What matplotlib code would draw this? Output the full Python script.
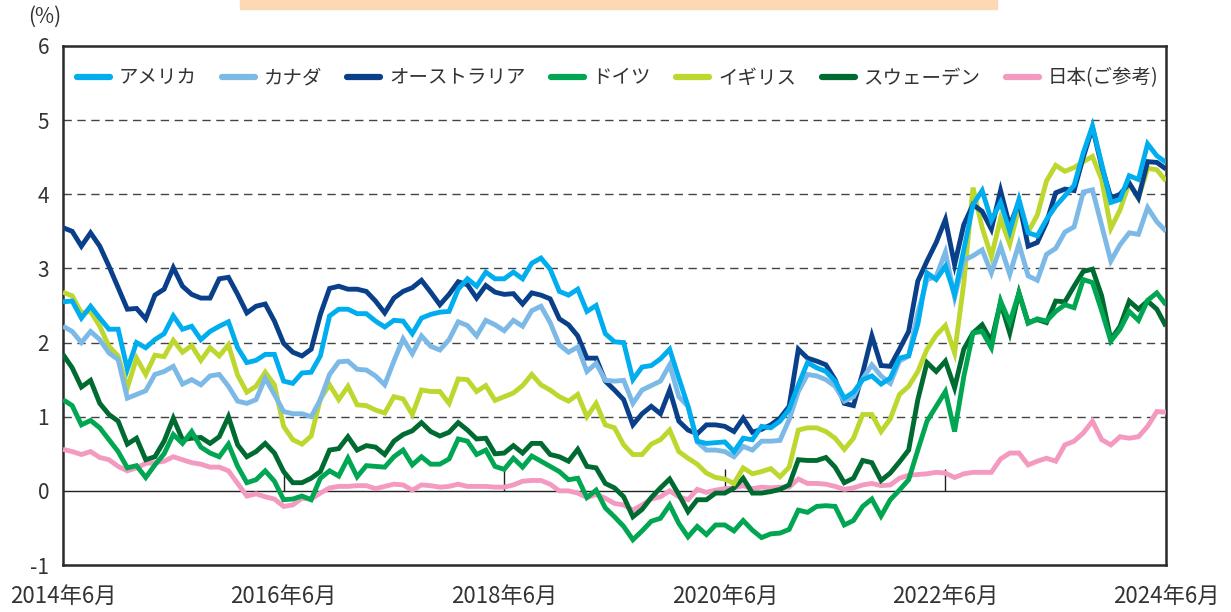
import numpy as np
import matplotlib.pyplot as plt
from matplotlib.patches import Rectangle

plt.rcParams['font.family'] = ['Noto Sans CJK JP', 'DejaVu Sans']

# 10-year government bond yields, month-end, 2014/6 - 2024/6 (%)
usa = [2.55, 2.56, 2.33, 2.49, 2.33, 2.18, 2.18, 1.64, 2.00, 1.93,
       2.04, 2.12, 2.36, 2.18, 2.22, 2.04, 2.15, 2.22, 2.28, 1.93,
       1.73, 1.76, 1.84, 1.84, 1.48, 1.45, 1.59, 1.60, 1.82, 2.36,
       2.45, 2.45, 2.39, 2.39, 2.29, 2.21, 2.30, 2.29, 2.12, 2.33,
       2.38, 2.41, 2.42, 2.72, 2.86, 2.76, 2.95, 2.86, 2.86, 2.95,
       2.86, 3.07, 3.14, 2.99, 2.69, 2.64, 2.72, 2.42, 2.50, 2.12,
       2.01, 2.00, 1.50, 1.67, 1.69, 1.78, 1.91, 1.52, 1.14, 0.67,
       0.64, 0.65, 0.66, 0.53, 0.71, 0.69, 0.87, 0.85, 0.94, 1.10,
       1.43, 1.73, 1.66, 1.61, 1.48, 1.25, 1.33, 1.50, 1.55, 1.44,
       1.52, 1.79, 1.82, 2.25, 2.94, 2.85, 3.03, 2.65, 3.25, 3.86,
       4.05, 3.65, 3.89, 3.50, 3.93, 3.48, 3.44, 3.66, 3.84, 3.98,
       4.12, 4.56, 4.92, 4.41, 3.89, 3.93, 4.25, 4.20, 4.68, 4.52,
       4.43]
canada = [2.22, 2.15, 2.00, 2.15, 2.04, 1.86, 1.77, 1.25, 1.30, 1.35,
          1.57, 1.61, 1.68, 1.44, 1.50, 1.43, 1.55, 1.57, 1.41, 1.21,
          1.18, 1.23, 1.52, 1.30, 1.07, 1.04, 1.04, 1.00, 1.23, 1.57,
          1.74, 1.75, 1.64, 1.63, 1.55, 1.43, 1.75, 2.05, 1.85, 2.09,
          1.95, 1.90, 2.04, 2.28, 2.23, 2.09, 2.30, 2.24, 2.16, 2.30,
          2.22, 2.43, 2.49, 2.27, 1.97, 1.87, 1.94, 1.61, 1.72, 1.49,
          1.48, 1.49, 1.18, 1.36, 1.42, 1.48, 1.70, 1.27, 1.14, 0.66,
          0.55, 0.55, 0.53, 0.46, 0.60, 0.55, 0.67, 0.67, 0.68, 0.96,
          1.34, 1.57, 1.55, 1.50, 1.41, 1.21, 1.27, 1.51, 1.70, 1.55,
          1.45, 1.75, 1.82, 2.40, 2.85, 2.89, 3.22, 2.61, 3.11, 3.17,
          3.25, 2.94, 3.30, 2.92, 3.33, 2.90, 2.84, 3.19, 3.27, 3.49,
          3.56, 4.03, 4.06, 3.58, 3.10, 3.32, 3.48, 3.46, 3.82, 3.63,
          3.50]
australia = [3.55, 3.50, 3.30, 3.48, 3.30, 3.03, 2.74, 2.45, 2.46, 2.32,
             2.64, 2.72, 3.01, 2.76, 2.65, 2.60, 2.60, 2.86, 2.88, 2.65,
             2.40, 2.49, 2.52, 2.29, 1.99, 1.87, 1.82, 1.91, 2.38, 2.73,
             2.76, 2.72, 2.72, 2.69, 2.56, 2.40, 2.60, 2.69, 2.74, 2.84,
             2.68, 2.51, 2.65, 2.82, 2.78, 2.60, 2.77, 2.68, 2.65, 2.66,
             2.52, 2.67, 2.64, 2.59, 2.32, 2.24, 2.09, 1.79, 1.79, 1.48,
             1.36, 1.23, 0.89, 1.04, 1.14, 1.04, 1.36, 0.94, 0.82, 0.77,
             0.89, 0.89, 0.87, 0.80, 0.98, 0.79, 0.83, 0.89, 0.98, 1.14,
             1.91, 1.79, 1.75, 1.70, 1.50, 1.18, 1.15, 1.59, 2.09, 1.69,
             1.68, 1.91, 2.15, 2.83, 3.10, 3.35, 3.66, 3.05, 3.59, 3.86,
             3.77, 3.53, 4.05, 3.57, 3.90, 3.30, 3.35, 3.62, 4.02, 4.07,
             4.05, 4.50, 4.90, 4.38, 3.95, 4.00, 4.15, 3.95, 4.44, 4.43,
             4.34]
germany = [1.23, 1.15, 0.89, 0.95, 0.85, 0.69, 0.53, 0.31, 0.34, 0.18,
           0.35, 0.50, 0.76, 0.64, 0.80, 0.59, 0.51, 0.46, 0.63, 0.33,
           0.11, 0.15, 0.27, 0.13, -0.12, -0.11, -0.07, -0.12, 0.17, 0.27,
           0.20, 0.44, 0.19, 0.34, 0.33, 0.32, 0.46, 0.55, 0.35, 0.46,
           0.36, 0.36, 0.43, 0.70, 0.67, 0.49, 0.55, 0.33, 0.29, 0.44,
           0.32, 0.47, 0.40, 0.33, 0.26, 0.15, 0.17, -0.09, 0.01, -0.23,
           -0.35, -0.48, -0.66, -0.54, -0.41, -0.37, -0.19, -0.44, -0.62, -0.48,
           -0.59, -0.46, -0.46, -0.54, -0.40, -0.53, -0.63, -0.58, -0.57, -0.52,
           -0.26, -0.29, -0.21, -0.20, -0.21, -0.46, -0.40, -0.21, -0.11, -0.34,
           -0.12, 0.01, 0.15, 0.55, 0.94, 1.14, 1.34, 0.80, 1.54, 2.13,
           2.15, 1.93, 2.56, 2.27, 2.67, 2.26, 2.32, 2.29, 2.42, 2.51,
           2.47, 2.85, 2.81, 2.43, 2.02, 2.18, 2.42, 2.30, 2.57, 2.67,
           2.51]
uk = [2.68, 2.63, 2.40, 2.42, 2.22, 1.95, 1.82, 1.39, 1.79, 1.57,
      1.83, 1.81, 2.03, 1.87, 1.96, 1.76, 1.93, 1.82, 1.97, 1.56,
      1.33, 1.41, 1.60, 1.43, 0.87, 0.69, 0.63, 0.74, 1.24, 1.43,
      1.23, 1.41, 1.16, 1.15, 1.09, 1.05, 1.27, 1.24, 1.03, 1.36,
      1.34, 1.34, 1.18, 1.51, 1.50, 1.34, 1.42, 1.22, 1.27, 1.32,
      1.42, 1.57, 1.43, 1.36, 1.27, 1.21, 1.30, 1.00, 1.18, 0.89,
      0.85, 0.62, 0.49, 0.49, 0.63, 0.69, 0.82, 0.53, 0.44, 0.36,
      0.24, 0.18, 0.16, 0.10, 0.31, 0.23, 0.26, 0.30, 0.19, 0.32,
      0.82, 0.85, 0.85, 0.80, 0.71, 0.56, 0.71, 1.03, 1.03, 0.80,
      0.97, 1.30, 1.41, 1.61, 1.91, 2.10, 2.23, 1.86, 2.80, 4.09,
      3.55, 3.16, 3.67, 3.33, 3.82, 3.49, 3.72, 4.18, 4.39, 4.31,
      4.36, 4.44, 4.51, 4.20, 3.54, 3.79, 4.15, 3.95, 4.35, 4.33,
      4.18]
sweden = [1.84, 1.66, 1.40, 1.49, 1.18, 1.03, 0.94, 0.63, 0.71, 0.42,
          0.46, 0.67, 0.98, 0.69, 0.71, 0.72, 0.64, 0.73, 1.00, 0.62,
          0.46, 0.53, 0.64, 0.51, 0.26, 0.11, 0.11, 0.17, 0.26, 0.55,
          0.57, 0.73, 0.55, 0.61, 0.59, 0.49, 0.67, 0.76, 0.81, 0.92,
          0.80, 0.74, 0.79, 0.92, 0.82, 0.70, 0.71, 0.50, 0.51, 0.61,
          0.51, 0.64, 0.64, 0.49, 0.46, 0.40, 0.56, 0.33, 0.31, 0.10,
          0.04, -0.08, -0.35, -0.25, -0.09, 0.04, 0.16, -0.05, -0.28, -0.12,
          -0.12, -0.03, -0.03, 0.04, 0.17, -0.03, -0.03, -0.01, 0.02, 0.08,
          0.42, 0.41, 0.41, 0.45, 0.32, 0.11, 0.17, 0.41, 0.38, 0.14,
          0.24, 0.39, 0.55, 1.23, 1.73, 1.61, 1.75, 1.39, 1.91, 2.13,
          2.24, 2.02, 2.54, 2.13, 2.67, 2.27, 2.31, 2.27, 2.56, 2.55,
          2.76, 2.96, 2.99, 2.63, 2.04, 2.22, 2.56, 2.45, 2.56, 2.45,
          2.22]
japan = [0.56, 0.53, 0.49, 0.53, 0.45, 0.42, 0.33, 0.27, 0.31, 0.37,
         0.38, 0.40, 0.46, 0.42, 0.38, 0.36, 0.32, 0.32, 0.27, 0.10,
         -0.07, -0.04, -0.08, -0.11, -0.21, -0.19, -0.10, -0.11, -0.03, 0.04,
         0.06, 0.06, 0.07, 0.07, 0.03, 0.06, 0.09, 0.08, 0.01, 0.08,
         0.07, 0.05, 0.06, 0.09, 0.06, 0.06, 0.06, 0.05, 0.05, 0.08,
         0.13, 0.14, 0.14, 0.09, 0.00, 0.00, -0.03, -0.09, -0.05, -0.10,
         -0.17, -0.19, -0.26, -0.19, -0.11, -0.08, 0.00, -0.08, -0.12, 0.02,
         -0.02, 0.01, 0.03, 0.04, 0.07, 0.03, 0.05, 0.04, 0.05, 0.05,
         0.16, 0.10, 0.10, 0.09, 0.06, 0.02, 0.04, 0.08, 0.10, 0.07,
         0.08, 0.17, 0.21, 0.22, 0.23, 0.25, 0.24, 0.18, 0.23, 0.25,
         0.25, 0.25, 0.43, 0.51, 0.51, 0.35, 0.40, 0.44, 0.40, 0.62,
         0.67, 0.78, 0.94, 0.69, 0.62, 0.73, 0.71, 0.73, 0.87, 1.07,
         1.06]

labels = ['アメリカ', 'カナダ', 'オーストラリア', 'ドイツ', 'イギリス', 'スウェーデン', '日本(ご参考)']
colors = ['#00AEEF', '#7CB9E6', '#0A3F8A', '#00A651', '#BED72F', '#006B30', '#F49AC1']
series = [usa, canada, australia, germany, uk, sweden, japan]

tick_pos = [0, 24, 48, 72, 96, 120]
tick_lab = ['2014年6月', '2016年6月', '2018年6月', '2020年6月', '2022年6月', '2024年6月']

fig = plt.figure(figsize=(12.31, 6.12), dpi=100)
ax = fig.add_axes([63/1231, 1-565/612, 1103/1231, 519/612])

x = np.arange(len(usa))
for i, (s, lab, c) in enumerate(zip(series, labels, colors)):
    ax.plot(x, s, color=c, lw=3.5, label=lab, zorder=10-i,
            solid_joinstyle='miter', solid_capstyle='butt')

ax.set_xlim(0, 120)
ax.set_ylim(-1, 6)
for yv in [1, 2, 3, 4, 5]:
    ax.axhline(yv, color='#444444', lw=1.0, dashes=(6, 4), zorder=1)
ax.axhline(0, color='#222222', lw=1.0, zorder=1)
ax.vlines(tick_pos[1:-1], 0, 0.29, color='#222222', lw=1.0, zorder=1)

ax.set_xticks(tick_pos)
ax.set_xticklabels(tick_lab, fontsize=16, color='#333333')
ax.set_yticks(range(-1, 7))
ax.set_yticklabels([str(v) for v in range(-1, 7)], fontsize=15, color='#333333')
ax.tick_params(length=0, pad=10)
ax.tick_params(axis='x', pad=14)
for sp in ax.spines.values():
    sp.set_color('#2a2a2a')
    sp.set_linewidth(1.8)

fig.text(45/1231, 1-17/612, '(%)', fontsize=15, color='#333333', ha='center', va='center')

leg = ax.legend(loc='upper left', bbox_to_anchor=(0.0, 0.985), ncol=7, frameon=False,
                fontsize=14, handlelength=1.7, handletextpad=0.45, columnspacing=1.3,
                borderaxespad=0.3)
for t in leg.get_texts():
    t.set_color('#333333')
for h in leg.legend_handles:
    h.set_linewidth(4.5)
    h.set_solid_capstyle('round')

fig.patches.append(Rectangle((240/1231, 1-9/612), 757/1231, 9/612,
                             transform=fig.transFigure, color='#FDD8B5', zorder=0))

fig.savefig('out.png', dpi=100)
